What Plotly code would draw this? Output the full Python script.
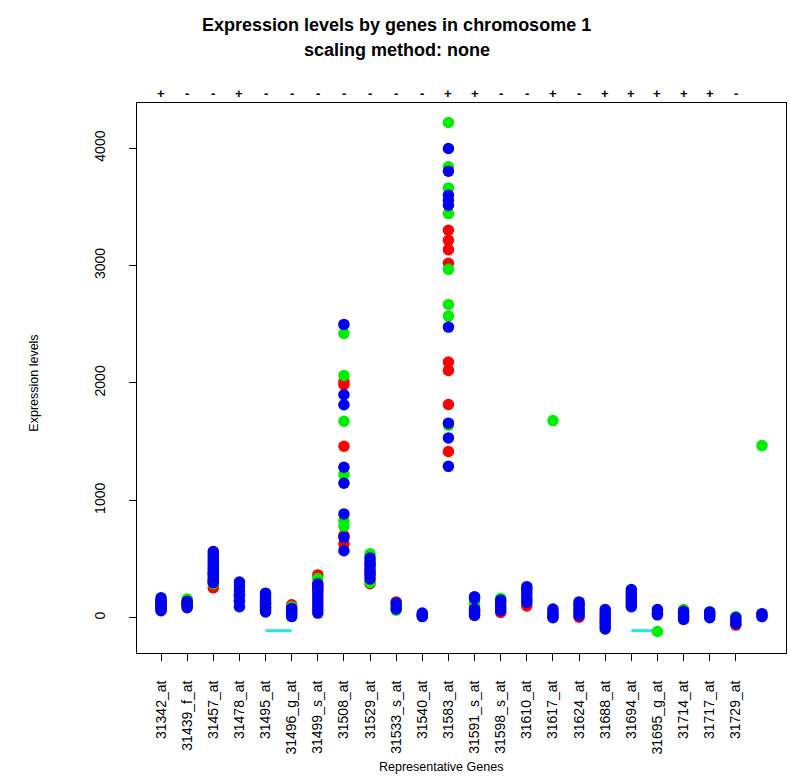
import plotly.graph_objects as go

# Probe sets on chromosome 1 (last column has no probe-set label)
genes = ["31342_at", "31439_f_at", "31457_at", "31478_at", "31495_at",
         "31496_g_at", "31499_s_at", "31508_at", "31529_at", "31533_s_at",
         "31540_at", "31583_at", "31591_s_at", "31598_s_at", "31610_at",
         "31617_at", "31624_at", "31688_at", "31694_at", "31695_g_at",
         "31714_at", "31717_at", "31729_at", ""]

# Strand of each labelled probe set
strands = ["+", "-", "-", "+", "-", "-", "-", "-", "-", "-", "-", "+",
           "+", "-", "-", "+", "-", "+", "+", "+", "+", "+", "-"]

# Expression values per sample group, one list per probe set
red_vals = [
    [80, 120], [110, 130], [255, 300, 380], [150, 200], [70, 120],
    [110], [365, 250], [2010, 1985, 1461, 700, 630], [290, 450, 380], [135],
    [20], [3301, 3215, 3136, 3020, 2178, 2107, 1817, 1416], [60, 100], [45], [100],
    [10], [5], [-40], [120], [30],
    [0], [20], [-62], [15],
]
green_vals = [
    [100], [160], [290, 320], [180], [90],
    [95], [335], [2422, 2064, 1674, 1219, 827, 779], [545, 300], [65],
    [25], [4219, 3841, 3662, 3443, 2968, 2669, 2570, 1640], [120], [165], [150],
    [1680, 30], [60], [0], [180], [-117],
    [70], [50], [10], [1467, 30],
]
blue_vals = [
    [60, 75, 90, 105, 120, 135, 150, 170],
    [85, 100, 115, 130, 140],
    [300, 320, 340, 360, 380, 400, 420, 440, 460, 480, 500, 520, 545, 565],
    [95, 140, 190, 230, 270, 305],
    [50, 70, 90, 110, 130, 150, 170, 190, 210],
    [10, 30, 50, 70, 80],
    [40, 70, 100, 130, 160, 190, 220, 250, 275, 290],
    [2499, 1900, 1815, 1282, 1146, 885, 685, 571],
    [330, 360, 390, 420, 450, 480, 510],
    [75, 100, 125],
    [10, 25, 40],
    [3997, 3804, 3599, 3557, 3514, 2476, 1658, 1532, 1290],
    [20, 35, 55, 75, 165, 180],
    [60, 80, 100, 125, 150],
    [130, 160, 190, 220, 245, 265],
    [0, 25, 50, 75],
    [20, 45, 70, 95, 115, 135],
    [-95, -70, -40, -10, 20, 45, 70],
    [95, 120, 145, 170, 195, 220, 240],
    [25, 45, 70],
    [-15, 10, 35, 55],
    [0, 25, 50],
    [-50, -25, 0],
    [10, 35],
]

# Horizontal segments drawn below the data
seg_from = [5, 19]
seg_to = [6, 20]
seg_level = [-110, -110]

y_ticks = [0, 1000, 2000, 3000, 4000]

RED, GREEN, BLUE, CYAN = "#FF0000", "#00EE00", "#0000F0", "#22E6EC"
FONT = "Liberation Sans, Arial, sans-serif"


def flatten(groups):
    xs, ys = [], []
    for i, vals in enumerate(groups, start=1):
        for v in vals:
            xs.append(i)
            ys.append(v)
    return xs, ys


fig = go.Figure()

for a, b, lvl in zip(seg_from, seg_to, seg_level):
    fig.add_trace(go.Scatter(x=[a, b], y=[lvl, lvl], mode="lines",
                             line=dict(color=CYAN, width=3),
                             showlegend=False, hoverinfo="skip"))

for vals, color in [(red_vals, RED), (green_vals, GREEN), (blue_vals, BLUE)]:
    xs, ys = flatten(vals)
    fig.add_trace(go.Scatter(x=xs, y=ys, mode="markers",
                             marker=dict(color=color, size=11.5, line=dict(width=0)),
                             showlegend=False))

annotations = []
# strand signs above the plot box
for i, s in enumerate(strands, start=1):
    annotations.append(dict(x=i, y=1.018, xref="x", yref="paper", text="<b>" + s + "</b>",
                            showarrow=False, yanchor="middle",
                            font=dict(family=FONT, size=13, color="#000000")))
# two-line title
annotations.append(dict(x=0.4006, y=1.1418, xref="paper", yref="paper",
                        text="<b>Expression levels by genes in chromosome 1</b>",
                        showarrow=False, xanchor="center", yanchor="middle",
                        font=dict(family=FONT, size=18, color="black")))
annotations.append(dict(x=0.4006, y=1.0964, xref="paper", yref="paper",
                        text="<b>scaling method: none</b>",
                        showarrow=False, xanchor="center", yanchor="middle",
                        font=dict(family=FONT, size=18, color="black")))
# axis titles
annotations.append(dict(x=-0.160, y=0.49, xref="paper", yref="paper",
                        text="Expression levels", textangle=-90,
                        showarrow=False, xanchor="center", yanchor="middle",
                        font=dict(family=FONT, size=12.5, color="black")))
annotations.append(dict(x=0.468, y=-0.2073, xref="paper", yref="paper",
                        text="Representative Genes",
                        showarrow=False, xanchor="center", yanchor="middle",
                        font=dict(family=FONT, size=12.5, color="black")))

fig.update_layout(
    width=790, height=778,
    margin=dict(l=137, r=4, t=103, b=125),
    paper_bgcolor="white", plot_bgcolor="white",
    showlegend=False,
    annotations=annotations,
    xaxis=dict(range=[0.08, 24.92], tickmode="array",
               tickvals=list(range(1, len(strands) + 1)),
               ticktext=genes[:len(strands)], tickangle=-90,
               ticks="outside", ticklen=7, tickcolor="black", tickwidth=1,
               showline=True, mirror=True, linecolor="black", linewidth=1,
               showgrid=False, zeroline=False, ticklabelstandoff=14,
               tickfont=dict(family=FONT, size=14, color="black")),
    yaxis=dict(range=[-300, 4385], tickmode="array", tickvals=y_ticks,
               ticktext=[str(t) for t in y_ticks], tickangle=-90,
               ticks="outside", ticklen=7, tickcolor="black", tickwidth=1,
               showline=True, mirror=True, linecolor="black", linewidth=1,
               showgrid=False, zeroline=False, ticklabelstandoff=18,
               tickfont=dict(family=FONT, size=14, color="black")),
)

fig.write_html("out.html")
